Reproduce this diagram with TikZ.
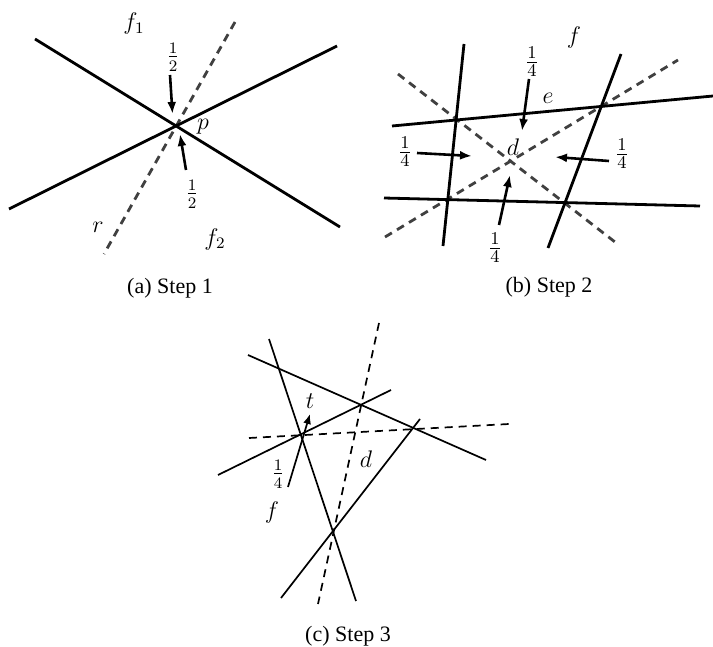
\documentclass[tikz,border=0pt]{standalone}
\usepackage{fontspec}
\newfontfamily\capfont{Liberation Serif}
\usetikzlibrary{arrows.meta}
\begin{document}
\begin{tikzpicture}[x=0.5pt,y=-0.5pt,
  solidline/.style={line width=1.4pt,black},
  dashline/.style={line width=1.4pt,draw=black!75,dash pattern=on 4pt off 3pt},
  thinline/.style={line width=0.85pt,black},
  thindash/.style={line width=0.85pt,black,dash pattern=on 4pt off 3pt},
  arr/.style={line width=1.3pt,-{Latex[length=6pt,width=4.5pt]}},
  lab/.style={inner sep=0pt,font=\fontsize{12}{14}\selectfont},
  bigfrac/.style={inner sep=0pt,font=\fontsize{13}{15}\selectfont},
  captext/.style={inner sep=0pt,font=\capfont\fontsize{11}{13}\selectfont}]
\useasboundingbox (0,0) rectangle (713,647);
% ---------- (a) ----------
\coordinate (a1s) at (35,39); \coordinate (a1e) at (340,227);
\coordinate (a2s) at (9,209); \coordinate (a2e) at (337,46);
\coordinate (ars) at (235,22); \coordinate (are) at (104,254);
\draw[dashline] (ars) -- (are);
\draw[solidline] (a1s) -- (a1e);
\draw[solidline] (a2s) -- (a2e);
\coordinate (aA1) at (170,75); \coordinate (aT1) at (172.5,114);
\coordinate (aA2) at (186,170); \coordinate (aT2) at (180,134);
\draw[arr] (aA1) -- (aT1);
\draw[arr] (aA2) -- (aT2);
\node[lab] (ah1) at (173,57) {$\frac{1}{2}$};
\node[lab] (ah2) at (192,194) {$\frac{1}{2}$};
\node[lab] (ap) at (203,127) {$p$};
\node[lab] (af1) at (134,24) {$f_1$};
\node[lab] (ar) at (98,227) {$r$};
\node[lab] (af2) at (215,239) {$f_2$};
\node[captext] (capa) at (170,288) {(a) Step 1};
% ---------- (b) ----------
\coordinate (bv1s) at (464,44); \coordinate (bv1e) at (443,246);
\coordinate (bv2s) at (621,54); \coordinate (bv2e) at (548,248);
\coordinate (bh1s) at (392,126); \coordinate (bh1e) at (713,96);
\coordinate (bh2s) at (384,198); \coordinate (bh2e) at (700,206);
\coordinate (bd1s) at (398,74); \coordinate (bd1e) at (615,242);
\coordinate (bd2s) at (385,237); \coordinate (bd2e) at (678,60);
\draw[dashline] (bd1s) -- (bd1e);
\draw[dashline] (bd2s) -- (bd2e);
\draw[solidline] (bv1s) -- (bv1e);
\draw[solidline] (bv2s) -- (bv2e);
\draw[solidline] (bh1s) -- (bh1e);
\draw[solidline] (bh2s) -- (bh2e);
\coordinate (bA1) at (529,79); \coordinate (bT1) at (522,131);
\coordinate (bA2) at (417,153); \coordinate (bT2) at (472,156);
\coordinate (bA3) at (609,161); \coordinate (bT3) at (555,157);
\coordinate (bA4) at (499,225); \coordinate (bT4) at (510,175);
\draw[arr] (bA1) -- (bT1);
\draw[arr] (bA2) -- (bT2);
\draw[arr] (bA3) -- (bT3);
\draw[arr] (bA4) -- (bT4);
\node[bigfrac] (bq1) at (532,62) {$\frac{1}{4}$};
\node[bigfrac] (bq2) at (405,152) {$\frac{1}{4}$};
\node[bigfrac] (bq3) at (622,154) {$\frac{1}{4}$};
\node[bigfrac] (bq4) at (495,248) {$\frac{1}{4}$};
\node[lab] (bd) at (513,147) {$d$};
\node[lab] (be) at (548,98) {$e$};
\node[lab] (bf) at (574,38) {$f$};
\node[captext] (capb) at (549,287) {(b) Step 2};
% ---------- (c) ----------
\coordinate (cAs) at (269,339); \coordinate (cAe) at (356,601);
\coordinate (cBs) at (248,355); \coordinate (cBe) at (486,460);
\coordinate (cCs) at (218,475); \coordinate (cCe) at (391,390);
\coordinate (cDs) at (281,598); \coordinate (cDe) at (420,419);
\coordinate (cVs) at (379,323); \coordinate (cVe) at (318,604);
\coordinate (cHs) at (249,438); \coordinate (cHe) at (509,424);
\draw[thindash] (cVs) -- (cVe);
\draw[thindash] (cHs) -- (cHe);
\draw[thinline] (cAs) -- (cAe);
\draw[thinline] (cBs) -- (cBe);
\draw[thinline] (cCs) -- (cCe);
\draw[thinline] (cDs) -- (cDe);
\coordinate (cA1) at (288,487); \coordinate (cT1) at (310,414);
\draw[thinline,-{Latex[length=5pt,width=4pt]}] (cA1) -- (cT1);
\node[lab] (ct) at (310,401) {$t$};
\node[lab] (cq) at (278,474) {$\frac{1}{4}$};
\node[lab] (cf) at (272,512) {$f$};
\node[lab] (cd) at (366,459) {$d$};
\node[captext] (capc) at (348,636) {(c) Step 3};
\end{tikzpicture}
\end{document}
